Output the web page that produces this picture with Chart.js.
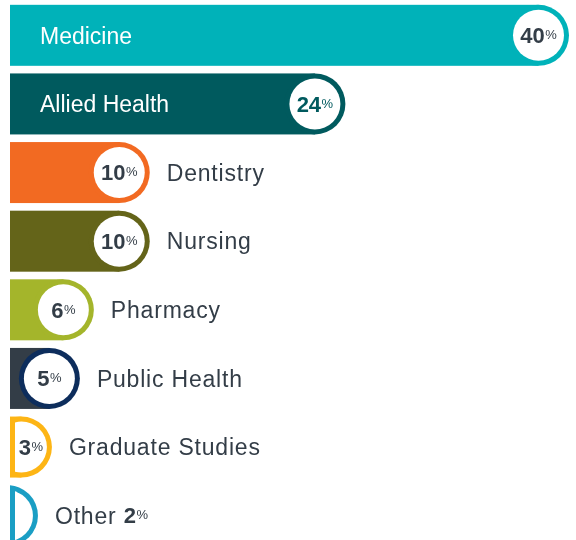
<!DOCTYPE html>
<html>
<head>
<meta charset="utf-8">
<script src="https://cdn.jsdelivr.net/npm/chart.js@4.4.1/dist/chart.umd.min.js"></script>
<style>
    html, body { margin: 0; padding: 0; background: #fff; overflow: hidden; }
    #wrap { width: 576px; height: 540px; overflow: hidden; }
</style>
</head>
<body>
<div id="wrap"><canvas id="programs-chart" width="576" height="552"></canvas></div>
<script>
// program share of students
const programLabels = ['Medicine', 'Allied Health', 'Dentistry', 'Nursing', 'Pharmacy', 'Public Health', 'Graduate Studies', 'Other'];
const programShares = [40, 24, 10, 10, 6, 5, 3, 2];

const barColors  = ['#00b2b9', '#005a5e', '#f26a22', '#646419', '#a4b52b', '#333d47', '#fdb515', '#1a9ec4'];
const ringColors = ['#00b2b9', '#005a5e', '#f26a22', '#646419', '#a4b52b', '#0d2d5c', '#fdb515', '#1a9ec4'];
const pctColors  = ['#333d47', '#005a5e', '#333d47', '#333d47', '#333d47', '#333d47', '#333d47', '#333d47'];

const RING = 5;
const LABEL_GAP = 17;
const TEXT_DARK = '#333d47';
const FONT = '"Liberation Sans", Arial, sans-serif';

function drawPercent(ctx, value, left, cy, color) {
    const num = String(value);
    ctx.font = 'bold 22px ' + FONT;
    const nw = ctx.measureText(num).width;
    ctx.fillStyle = color;
    ctx.textAlign = 'left';
    ctx.textBaseline = 'alphabetic';
    ctx.fillText(num, left, cy + 7.8);
    ctx.font = '13px ' + FONT;
    ctx.fillText('%', left + nw + 0.5, cy + 3.8);
}

function percentWidth(ctx, value) {
    ctx.font = 'bold 22px ' + FONT;
    const nw = ctx.measureText(String(value)).width;
    ctx.font = '13px ' + FONT;
    return nw + 0.5 + ctx.measureText('%').width;
}

const pillPlugin = {
    id: 'pills',
    afterDatasetsDraw(chart) {
        const ctx = chart.ctx;
        const meta = chart.getDatasetMeta(0);

        meta.data.forEach((bar, i) => {
            const {x, y, base, height} = bar.getProps(['x', 'y', 'base', 'height'], true);
            const r = height / 2;
            const cx = x - r;
            const inner = r - RING;

            // bar body + rounded cap + white disc
            ctx.save();
            ctx.beginPath();
            ctx.rect(base, y - r - 1, x - base + 2, height + 2);
            ctx.clip();
            if (cx > base) {
                ctx.fillStyle = barColors[i];
                ctx.fillRect(base, y - r, cx - base, height);
            }
            ctx.fillStyle = ringColors[i];
            ctx.beginPath();
            ctx.arc(cx, y, r, 0, Math.PI * 2);
            ctx.fill();
            ctx.beginPath();
            ctx.rect(base + RING, y - r, x - base, height);
            ctx.clip();
            ctx.fillStyle = '#fff';
            ctx.beginPath();
            ctx.arc(cx, y, inner, 0, Math.PI * 2);
            ctx.fill();
            ctx.restore();

            // percentage inside the disc if it fits
            const wLeft = Math.max(cx - inner, base + RING);
            const wRight = cx + inner;
            const pctInside = (wRight - wLeft) >= 26;
            ctx.save();
            if (pctInside) {
                const pw = percentWidth(ctx, programShares[i]);
                drawPercent(ctx, programShares[i], (wLeft + wRight) / 2 - pw / 2, y, pctColors[i]);
            }

            // category label
            ctx.font = '23px ' + FONT;
            ctx.textAlign = 'left';
            ctx.textBaseline = 'alphabetic';
            const lw = ctx.measureText(programLabels[i]).width;
            if ((cx - r) - base > lw + 40) {
                ctx.fillStyle = '#ffffff';
                ctx.fillText(programLabels[i], base + 30, y + 8.2);
            } else {
                ctx.letterSpacing = '0.8px';
                ctx.fillStyle = TEXT_DARK;
                const lx = x + LABEL_GAP;
                ctx.fillText(programLabels[i], lx, y + 8.2);
                const lw2 = ctx.measureText(programLabels[i] + ' ').width;
                ctx.letterSpacing = '0px';
                if (!pctInside) {
                    drawPercent(ctx, programShares[i], lx + lw2, y, pctColors[i]);
                }
            }
            ctx.restore();
        });
    }
};

const programsCanvas = document.querySelector('#programs-chart');

const programsChart = new Chart(programsCanvas, {
    type: 'bar',
    data: {
        labels: programLabels,
        datasets: [{
            data: programShares,
            backgroundColor: 'rgba(0,0,0,0)',
            borderWidth: 0,
            barThickness: 61,
        }]
    },
    options: {
        indexAxis: 'y',
        responsive: false,
        animation: false,
        layout: {
            padding: {left: 10, right: 7, top: 1, bottom: 2}
        },
        plugins: {
            legend: {display: false},
            tooltip: {enabled: false}
        },
        scales: {
            x: {display: false, min: 0, max: 40},
            y: {display: false}
        }
    },
    plugins: [pillPlugin]
});
</script>
</body>
</html>
